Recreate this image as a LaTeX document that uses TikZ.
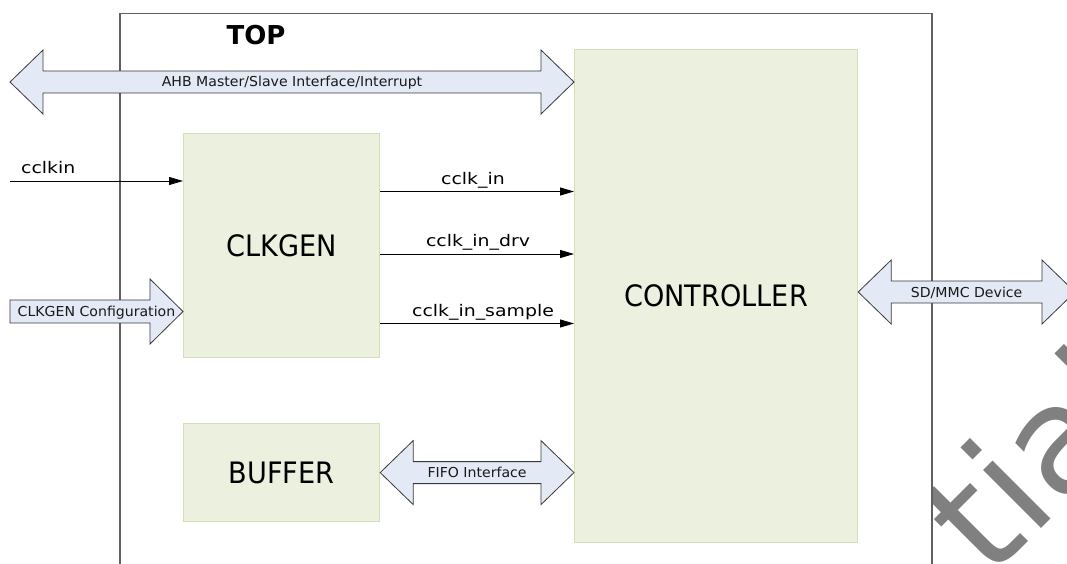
\documentclass[tikz,border=0pt]{standalone}
\usepackage{fontspec}
\usepackage{graphicx}
\setmainfont{DejaVu Sans}
\usetikzlibrary{arrows.meta,calc}

\definecolor{boxfill}{HTML}{EBF0DF}
\definecolor{boxline}{HTML}{D3E0B8}
\definecolor{busfill}{HTML}{E3EAF5}
\definecolor{busline}{HTML}{3A3A3A}
\definecolor{framecol}{HTML}{606060}
\definecolor{wmgray}{HTML}{808080}

% text helpers
\newcommand{\bigtxt}[1]{\scalebox{0.92}[1]{#1}}
\newcommand{\sigtxt}[1]{\scalebox{1.18}[1]{#1}}
\newcommand{\bustxt}[1]{\scalebox{1.03}[1]{#1}}

% double-headed block arrow between two points on one horizontal line
\newcommand{\dblbus}[2]{%
  \draw[bus] (#1) -- ($(#1)+(33,-32)$) -- ($(#1)+(33,-11)$) -- ($(#2)+(-33,-11)$)
    -- ($(#2)+(-33,-32)$) -- (#2) -- ($(#2)+(-33,32)$) -- ($(#2)+(-33,11)$)
    -- ($(#1)+(33,11)$) -- ($(#1)+(33,32)$) -- cycle;}

\tikzset{
  blk/.style={draw=boxline, fill=boxfill, line width=1.2pt, inner sep=0pt,
    anchor=north west, font=\fontsize{29.5}{34}\selectfont},
  topframe/.style={draw=framecol, fill=white, line width=1.5pt, inner sep=0pt,
    anchor=north west},
  bus/.style={draw=busline, fill=busfill, line width=0.8pt, line join=miter},
  buslabel/.style={inner sep=0pt, anchor=base, text=black!90,
    font=\fontsize{13.7}{16}\selectfont},
  sig/.style={draw=black, line width=0.9pt, -{Triangle[length=14pt,width=8pt]}},
  siglabel/.style={inner sep=0pt, anchor=base, font=\fontsize{16}{19}\selectfont},
  wm/.style={inner sep=0pt, anchor=base west, rotate=45, text=wmgray,
    font=\fontsize{150}{150}\selectfont}
}

\begin{document}
\begin{tikzpicture}[x=1pt, y=-1pt]
\useasboundingbox (0,0) rectangle (1067,564);
\clip (0,0) rectangle (1067,564);

% watermark behind the frame
\node[wm] (wm) at (989.5,580.5) {tial};

% top-level frame
\node[topframe, minimum width=812pt, minimum height=600pt] (top) at (119,13) {};
\node[inner sep=0pt, font=\fontsize{26}{30}\selectfont\bfseries] (toplbl) at (256,35) {TOP};

% blocks
\node[blk, minimum width=196pt, minimum height=224pt] (clkgen) at (183,133) {\bigtxt{CLKGEN}};
\node[blk, minimum width=196pt, minimum height=98pt] (buffer) at (183,423) {\bigtxt{BUFFER}};
\node[blk, minimum width=283pt, minimum height=493pt] (controller) at (574,49) {\bigtxt{CONTROLLER}};

% AHB bus
\coordinate (ahbL) at (10,82);
\coordinate (ahbR) at (controller.west |- ahbL);
\dblbus{ahbL}{ahbR}
\node[buslabel] (ahbtxt) at ($(ahbL)!0.5!(ahbR)+(0,5)$) {\bustxt{AHB Master/Slave Interface/Interrupt}};

% FIFO bus
\coordinate (fifoL) at (buffer.east);
\coordinate (fifoR) at (controller.west |- fifoL);
\dblbus{fifoL}{fifoR}
\node[buslabel] (fifotxt) at ($(fifoL)!0.5!(fifoR)+(0,5)$) {\bustxt{FIFO Interface}};

% SD/MMC bus
\coordinate (sdL) at (controller.east |- 0,292);
\coordinate (sdR) at (1075,292);
\dblbus{sdL}{sdR}
\node[buslabel] (sdtxt) at ($(sdL)!0.5!(sdR)+(0,5)$) {\bustxt{SD/MMC Device}};

% CLKGEN configuration input
\coordinate (cfgT) at (10,311.5);
\coordinate (cfgH) at (clkgen.west |- cfgT);
\draw[bus] (cfgT) ++(0,-11.5) -- ($(cfgH)+(-33,-11.5)$) -- ($(cfgH)+(-33,-32.5)$) -- (cfgH)
  -- ($(cfgH)+(-33,32.5)$) -- ($(cfgH)+(-33,11.5)$) -- ($(cfgT)+(0,11.5)$) -- cycle;
\node[buslabel] (cfgtxt) at ($(cfgT)!0.5!(cfgH)+(0,5)$) {\bustxt{CLKGEN Configuration}};

% clock signals
\coordinate (cclkinsrc) at (10,181);
\draw[sig] (cclkinsrc) -- (clkgen.west |- cclkinsrc);
\node[siglabel, anchor=base west] (cclkintxt) at (21,174) {\sigtxt{cclkin}};

\draw[sig] (clkgen.east |- 0,191.5) -- (controller.west |- 0,191.5);
\node[siglabel] (cclk1txt) at (473,184) {\sigtxt{cclk\_in}};

\draw[sig] (clkgen.east |- 0,254) -- (controller.west |- 0,254);
\node[siglabel] (cclk2txt) at (478,246) {\sigtxt{cclk\_in\_drv}};

\draw[sig] (clkgen.east |- 0,323.5) -- (controller.west |- 0,323.5);
\node[siglabel] (cclk3txt) at (483,316) {\sigtxt{cclk\_in\_sample}};
\end{tikzpicture}
\end{document}
